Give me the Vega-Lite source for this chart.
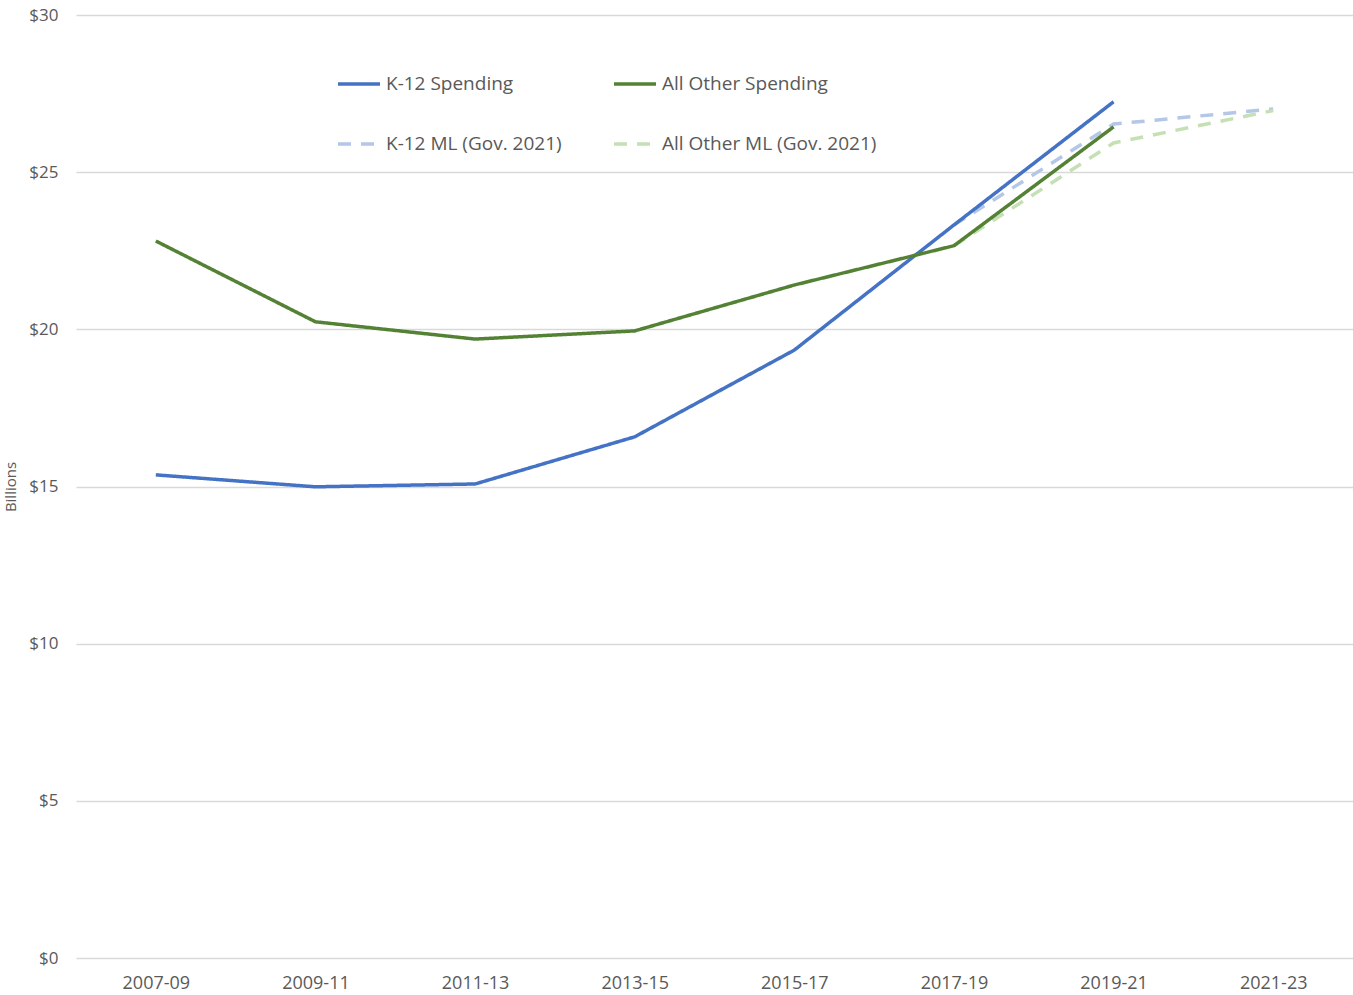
{
  "$schema": "https://vega.github.io/schema/vega-lite/v6.json",
  "width": 1353,
  "height": 995,
  "autosize": {"type": "fit", "contains": "padding"},
  "padding": {"left": 3, "top": 6, "right": 0, "bottom": 3},
  "background": "white",
  "config": {
    "view": {"stroke": null},
    "font": "Open Sans",
    "axis": {"labelFont": "Open Sans", "titleFont": "Open Sans", "labelColor": "#595959", "titleColor": "#595959"},
    "legend": {"labelFont": "Open Sans"}
  },
  "data": {
    "values": [
      {"series": "K-12 Spending", "period": "2007-09", "value": 15.37},
      {"series": "K-12 Spending", "period": "2009-11", "value": 14.99},
      {"series": "K-12 Spending", "period": "2011-13", "value": 15.08},
      {"series": "K-12 Spending", "period": "2013-15", "value": 16.58},
      {"series": "K-12 Spending", "period": "2015-17", "value": 19.34},
      {"series": "K-12 Spending", "period": "2017-19", "value": 23.32},
      {"series": "K-12 Spending", "period": "2019-21", "value": 27.24},
      {"series": "All Other Spending", "period": "2007-09", "value": 22.81},
      {"series": "All Other Spending", "period": "2009-11", "value": 20.24},
      {"series": "All Other Spending", "period": "2011-13", "value": 19.69},
      {"series": "All Other Spending", "period": "2013-15", "value": 19.95},
      {"series": "All Other Spending", "period": "2015-17", "value": 21.41},
      {"series": "All Other Spending", "period": "2017-19", "value": 22.66},
      {"series": "All Other Spending", "period": "2019-21", "value": 26.44},
      {"series": "K-12 ML (Gov. 2021)", "period": "2017-19", "value": 23.32},
      {"series": "K-12 ML (Gov. 2021)", "period": "2019-21", "value": 26.53},
      {"series": "K-12 ML (Gov. 2021)", "period": "2021-23", "value": 27.01},
      {"series": "All Other ML (Gov. 2021)", "period": "2017-19", "value": 22.66},
      {"series": "All Other ML (Gov. 2021)", "period": "2019-21", "value": 25.93},
      {"series": "All Other ML (Gov. 2021)", "period": "2021-23", "value": 26.96}
    ]
  },
  "encoding": {
    "x": {
      "field": "period", "type": "ordinal",
      "scale": {"type": "point", "padding": 0.5},
      "axis": {"title": null, "labelAngle": 0, "domain": false, "ticks": false, "grid": false, "labelFontSize": 18, "labelPadding": 16}
    },
    "y": {
      "field": "value", "type": "quantitative",
      "scale": {"domain": [0, 30]},
      "axis": {"title": "Billions", "titleFontSize": 15, "titleFontWeight": "normal", "titlePadding": 10, "values": [0, 5, 10, 15, 20, 25, 30], "format": "$d", "domain": false, "ticks": false, "gridColor": "#D9D9D9", "gridWidth": 1.3, "labelFontSize": 17, "labelPadding": 18}
    },
    "color": {
      "field": "series", "type": "nominal",
      "scale": {
        "domain": ["K-12 Spending", "All Other Spending", "K-12 ML (Gov. 2021)", "All Other ML (Gov. 2021)"],
        "range": ["#4472C4", "#548235", "#B4C7E7", "#C5E0B4"]
      },
      "legend": {
        "title": null, "orient": "none", "legendX": 260, "legendY": 46, "columns": 2, "direction": "horizontal", "columnPadding": 45, "rowPadding": 27,
        "symbolType": "stroke", "symbolSize": 1764, "symbolStrokeWidth": 3.5, "labelFontSize": 19, "labelColor": "#595959", "labelOffset": 4, "labelLimit": 400
      }
    },
    "strokeDash": {
      "field": "series", "type": "nominal",
      "scale": {
        "domain": ["K-12 Spending", "All Other Spending", "K-12 ML (Gov. 2021)", "All Other ML (Gov. 2021)"],
        "range": [[1, 0], [1, 0], [13, 10], [13, 10]]
      }
    }
  },
  "layer": [
    {
      "transform": [{"filter": "indexof(datum.series, 'ML') >= 0"}],
      "mark": {"type": "line", "strokeWidth": 3.5, "strokeCap": "butt"}
    },
    {
      "transform": [{"filter": "indexof(datum.series, 'ML') < 0"}],
      "mark": {"type": "line", "strokeWidth": 3.5}
    }
  ]
}
